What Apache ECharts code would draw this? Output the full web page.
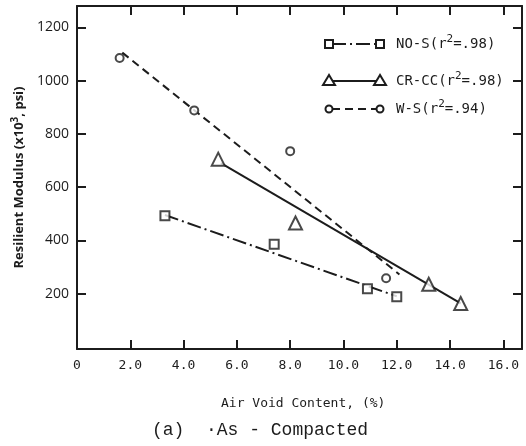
<!DOCTYPE html>
<html><head><meta charset="utf-8">
<script src="https://cdn.jsdelivr.net/npm/echarts@6/dist/echarts.min.js"></script>
<style>html,body{margin:0;padding:0;background:#fff}#c{width:526px;height:446px}</style>
</head><body><div id="c"></div>
<script>
// ---- data ----
const xTickValues = [0, 2, 4, 6, 8, 10, 12, 14, 16];
const yTickValues = [200, 400, 600, 800, 1000, 1200];
const seriesNames = ['NO-S', 'CR-CC', 'W-S'];
const r2Values = ['.98', '.98', '.94'];
const noS_x = [3.3, 7.4, 10.9, 12.0];
const noS_y = [492, 385, 218, 188];
const crcc_x = [5.3, 8.2, 13.2, 14.4];
const crcc_y = [705, 465, 235, 163];
const ws_x = [1.6, 4.4, 8.0, 11.6];
const ws_y = [1085, 888, 735, 258];
const noS_fit_x = [3.3, 12.0];
const noS_fit_y = [495, 190];
const crcc_fit_x = [5.4, 14.4];
const crcc_fit_y = [690, 163];
const ws_fit_x = [1.7, 12.1];
const ws_fit_y = [1105, 272];

const ink = '#1c1c1c';
const zip = (a, b) => a.map((v, i) => [v, b[i]]);
const dashDot = [14, 4, 2, 4];
const dashed = [8, 5];
const mono = '"DejaVu Sans Mono", "Liberation Mono", monospace';
const sans = '"Open Sans", "DejaVu Sans", sans-serif';

const chart = echarts.init(document.getElementById('c'), null, {renderer: 'canvas'});

function fitLine(name, x, y, dash) {
  return {name: name + ' fit', type: 'line', data: zip(x, y), symbol: 'none', silent: true,
    lineStyle: {color: ink, width: 2, type: dash}, z: 2};
}
function pts(name, x, y, sym, size) {
  return {name: name, type: 'scatter', data: zip(x, y), symbol: sym, symbolSize: size,
    itemStyle: {color: '#fff', borderColor: ink, borderWidth: 2}, z: 3};
}

// legend drawn as graphic
const legendRows = [44, 81, 109];
const legendDash = [dashDot, null, dashed];
const graphic = [];
legendRows.forEach((yy, i) => {
  graphic.push({type: 'line', shape: {x1: 332, y1: yy, x2: 377, y2: yy},
    style: {stroke: ink, lineWidth: 2, lineDash: legendDash[i]}});
  [329, 380].forEach(cx => {
    if (i === 0) graphic.push({type: 'rect', shape: {x: cx - 4, y: yy - 4, width: 8, height: 8},
      style: {fill: '#fff', stroke: ink, lineWidth: 2}});
    else if (i === 1) graphic.push({type: 'polygon', shape: {points: [[cx, yy - 6], [cx - 6, yy + 4], [cx + 6, yy + 4]]},
      style: {fill: '#fff', stroke: ink, lineWidth: 2}});
    else graphic.push({type: 'circle', shape: {cx: cx, cy: yy, r: 3.5},
      style: {fill: '#fff', stroke: ink, lineWidth: 2}});
  });
  graphic.push({type: 'text', left: 396, top: yy - 10,
    style: {text: seriesNames[i] + '(r{s|2}=' + r2Values[i] + ')', fill: ink, font: '14px ' + mono,
      rich: {s: {fontSize: 11, fontFamily: mono, padding: [0, 0, 10, 0], fill: ink}}}});
});
graphic.push({type: 'text', left: 221, top: 397,
  style: {text: 'Air Void Content, (%)', fill: ink, font: '13px ' + mono}});
graphic.push({type: 'text', left: 152, top: 421,
  style: {text: '(a)  ·As - Compacted', fill: ink, font: '18px "Liberation Mono", monospace'}});

const tickStyle = {show: true, inside: true, length: 9, lineStyle: {color: ink, width: 2}};
const lineStyle = {show: true, onZero: false, lineStyle: {color: ink, width: 2}};

const option = {
  backgroundColor: '#fff',
  animation: false,
  grid: {left: 77, right: 4, top: 6, bottom: 97},
  xAxis: [{
    type: 'value', min: 0, max: 16.7, position: 'bottom',
    axisLine: lineStyle,
    axisTick: Object.assign({}, tickStyle, {customValues: xTickValues.slice(1)}),
    axisLabel: {customValues: xTickValues, formatter: v => v === 0 ? '0' : v.toFixed(1),
      color: ink, fontFamily: mono, fontSize: 13, margin: 10},
    splitLine: {show: false}
  }, {
    type: 'value', position: 'top', min: 0, max: 16.7,
    axisLine: lineStyle,
    axisTick: Object.assign({}, tickStyle, {customValues: xTickValues.slice(1)}),
    axisLabel: {show: false}, splitLine: {show: false}
  }],
  yAxis: [{
    type: 'value', min: -8, max: 1280, position: 'left',
    name: 'Resilient Modulus (x10{s|3}, psi)', nameLocation: 'middle', nameGap: 41, nameRotate: 90,
    nameTextStyle: {color: ink, fontFamily: sans, fontSize: 13, fontWeight: 'bold',
      rich: {s: {fontSize: 10, fontWeight: 'bold', fontFamily: sans, padding: [0, 0, 9, 0]}}},
    axisLine: lineStyle,
    axisTick: Object.assign({}, tickStyle, {customValues: yTickValues}),
    axisLabel: {customValues: yTickValues, formatter: v => String(v), color: ink, fontFamily: sans, fontSize: 14, margin: 8},
    splitLine: {show: false}
  }, {
    type: 'value', position: 'right', min: -8, max: 1280,
    axisLine: lineStyle,
    axisTick: Object.assign({}, tickStyle, {customValues: yTickValues}),
    axisLabel: {show: false}, splitLine: {show: false}
  }],
  series: [
    fitLine(seriesNames[0], noS_fit_x, noS_fit_y, dashDot),
    fitLine(seriesNames[1], crcc_fit_x, crcc_fit_y, 'solid'),
    fitLine(seriesNames[2], ws_fit_x, ws_fit_y, dashed),
    pts(seriesNames[0], noS_x, noS_y, 'rect', 9),
    pts(seriesNames[1], crcc_x, crcc_y, 'triangle', 13),
    pts(seriesNames[2], ws_x, ws_y, 'circle', 8)
  ],
  graphic: graphic
};
chart.setOption(option);
</script>
</body></html>
